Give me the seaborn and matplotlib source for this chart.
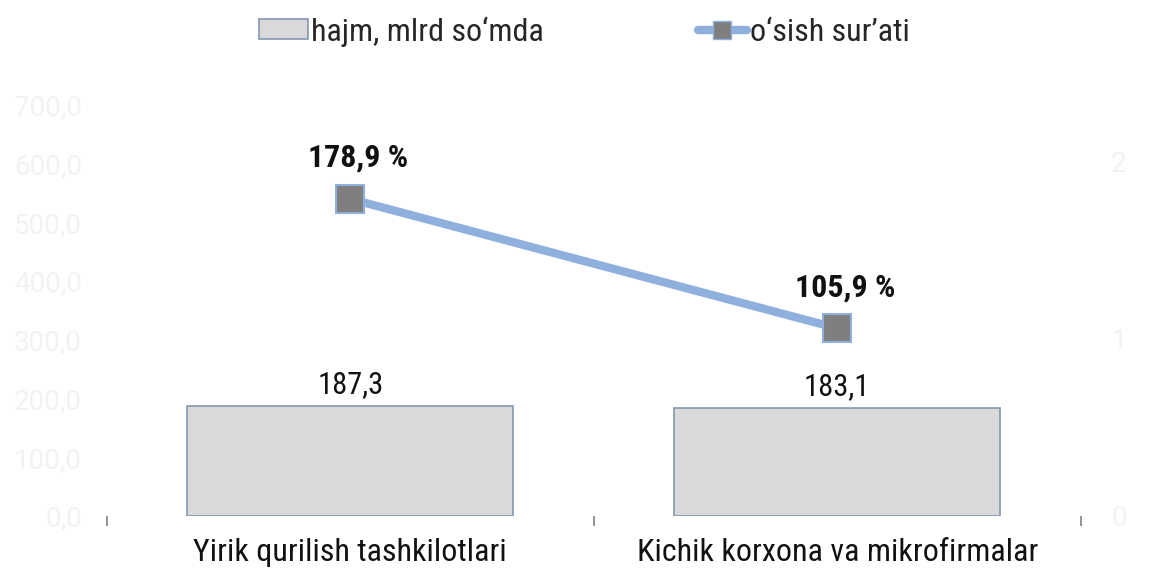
import numpy as np
import pandas as pd
import matplotlib
matplotlib.use('Agg')
import matplotlib.pyplot as plt
import seaborn as sns
from matplotlib.patches import Patch
from matplotlib.lines import Line2D

# data
categories = ['Yirik qurilish tashkilotlari', 'Kichik korxona va mikrofirmalar']
volume = [187.3, 183.1]          # hajm, mlrd so'mda
growth = [178.9, 105.9]          # o'sish sur'ati, %
left_ticks = [0, 100, 200, 300, 400, 500, 600, 700]
right_ticks = [0, 1, 2]

sns.set_theme(style='white')
plt.rcParams['font.family'] = ['Roboto Condensed', 'Roboto', 'DejaVu Sans']

bar_fill = '#d9d9d9'
bar_edge = '#8497b0'
line_col = '#8fb0dc'
mark_col = '#7f7f7f'
faint = '#f2f2f2'
fs = 23

df = pd.DataFrame({'cat': categories, 'vol': volume, 'growth': np.array(growth) / 100})

fig = plt.figure(figsize=(11.62, 5.70), dpi=100)
ax = fig.add_axes([0.092, 0.095, 0.838, 0.721])

sns.barplot(data=df, x='cat', y='vol', ax=ax, color=bar_fill, width=0.67,
            edgecolor=bar_edge, linewidth=1.2, saturation=1)
ax.set_ylim(0, 700)
ax.set_xlim(-0.5, 1.5)
ax.set_yticks(left_ticks)
ax.set_yticklabels([f'{v:.1f}'.replace('.', ',') for v in left_ticks],
                   color=faint, fontsize=20, family=['Roboto', 'DejaVu Sans'])
ax.set_xlabel('')
ax.set_ylabel('')
ax.tick_params(axis='x', length=0, labelsize=fs, pad=16, labelcolor='#111111')
ax.set_xticks([-0.5, 0.5, 1.5], minor=True)
ax.tick_params(axis='x', which='minor', length=7, width=1.2, color='#808080', direction='out', bottom=True)
ax.tick_params(axis='y', length=0, pad=18)
for s in ax.spines.values():
    s.set_visible(False)

for i, v in enumerate(volume):
    ax.text(i, v + 12, f'{v:.1f}'.replace('.', ','), ha='center', va='bottom',
            fontsize=22, color='#111111')

ax2 = ax.twinx()
sns.lineplot(data=df, x='cat', y='growth', ax=ax2, color=line_col, linewidth=6,
             marker='s', markersize=20, markerfacecolor=mark_col,
             markeredgecolor=line_col, markeredgewidth=1.5, sort=False)
ax2.set_ylim(0, 2.32)
ax2.set_yticks(right_ticks)
ax2.set_yticklabels([str(t) for t in right_ticks], color=faint, fontsize=20,
                    family=['Roboto', 'DejaVu Sans'])
ax2.tick_params(axis='y', length=0, pad=22)
ax2.set_ylabel('')
ax2.set_xlim(-0.5, 1.5)
for s in ax2.spines.values():
    s.set_visible(False)

for i, g in enumerate(growth):
    ax2.annotate(f'{g:.1f}'.replace('.', ',') + ' %', (i, g / 100),
                 xytext=(5.5, 29.5), textcoords='offset points', ha='center',
                 va='center', fontsize=fs, fontweight='bold', color='#111111')

handles = [Patch(facecolor=bar_fill, edgecolor=bar_edge, linewidth=1.2),
           Line2D([0], [0], color=line_col, linewidth=6, marker='s', markersize=13,
                  markerfacecolor=mark_col, markeredgecolor=line_col)]
fig.legend(handles, ['hajm, mlrd so‘mda', 'o‘sish sur’ati'], loc='center',
           bbox_to_anchor=(0.503, 0.945), ncol=2, frameon=False, fontsize=fs,
           handlelength=1.55, handleheight=0.6, handletextpad=0.1, columnspacing=4.8)

fig.savefig('out.png', dpi=100)
